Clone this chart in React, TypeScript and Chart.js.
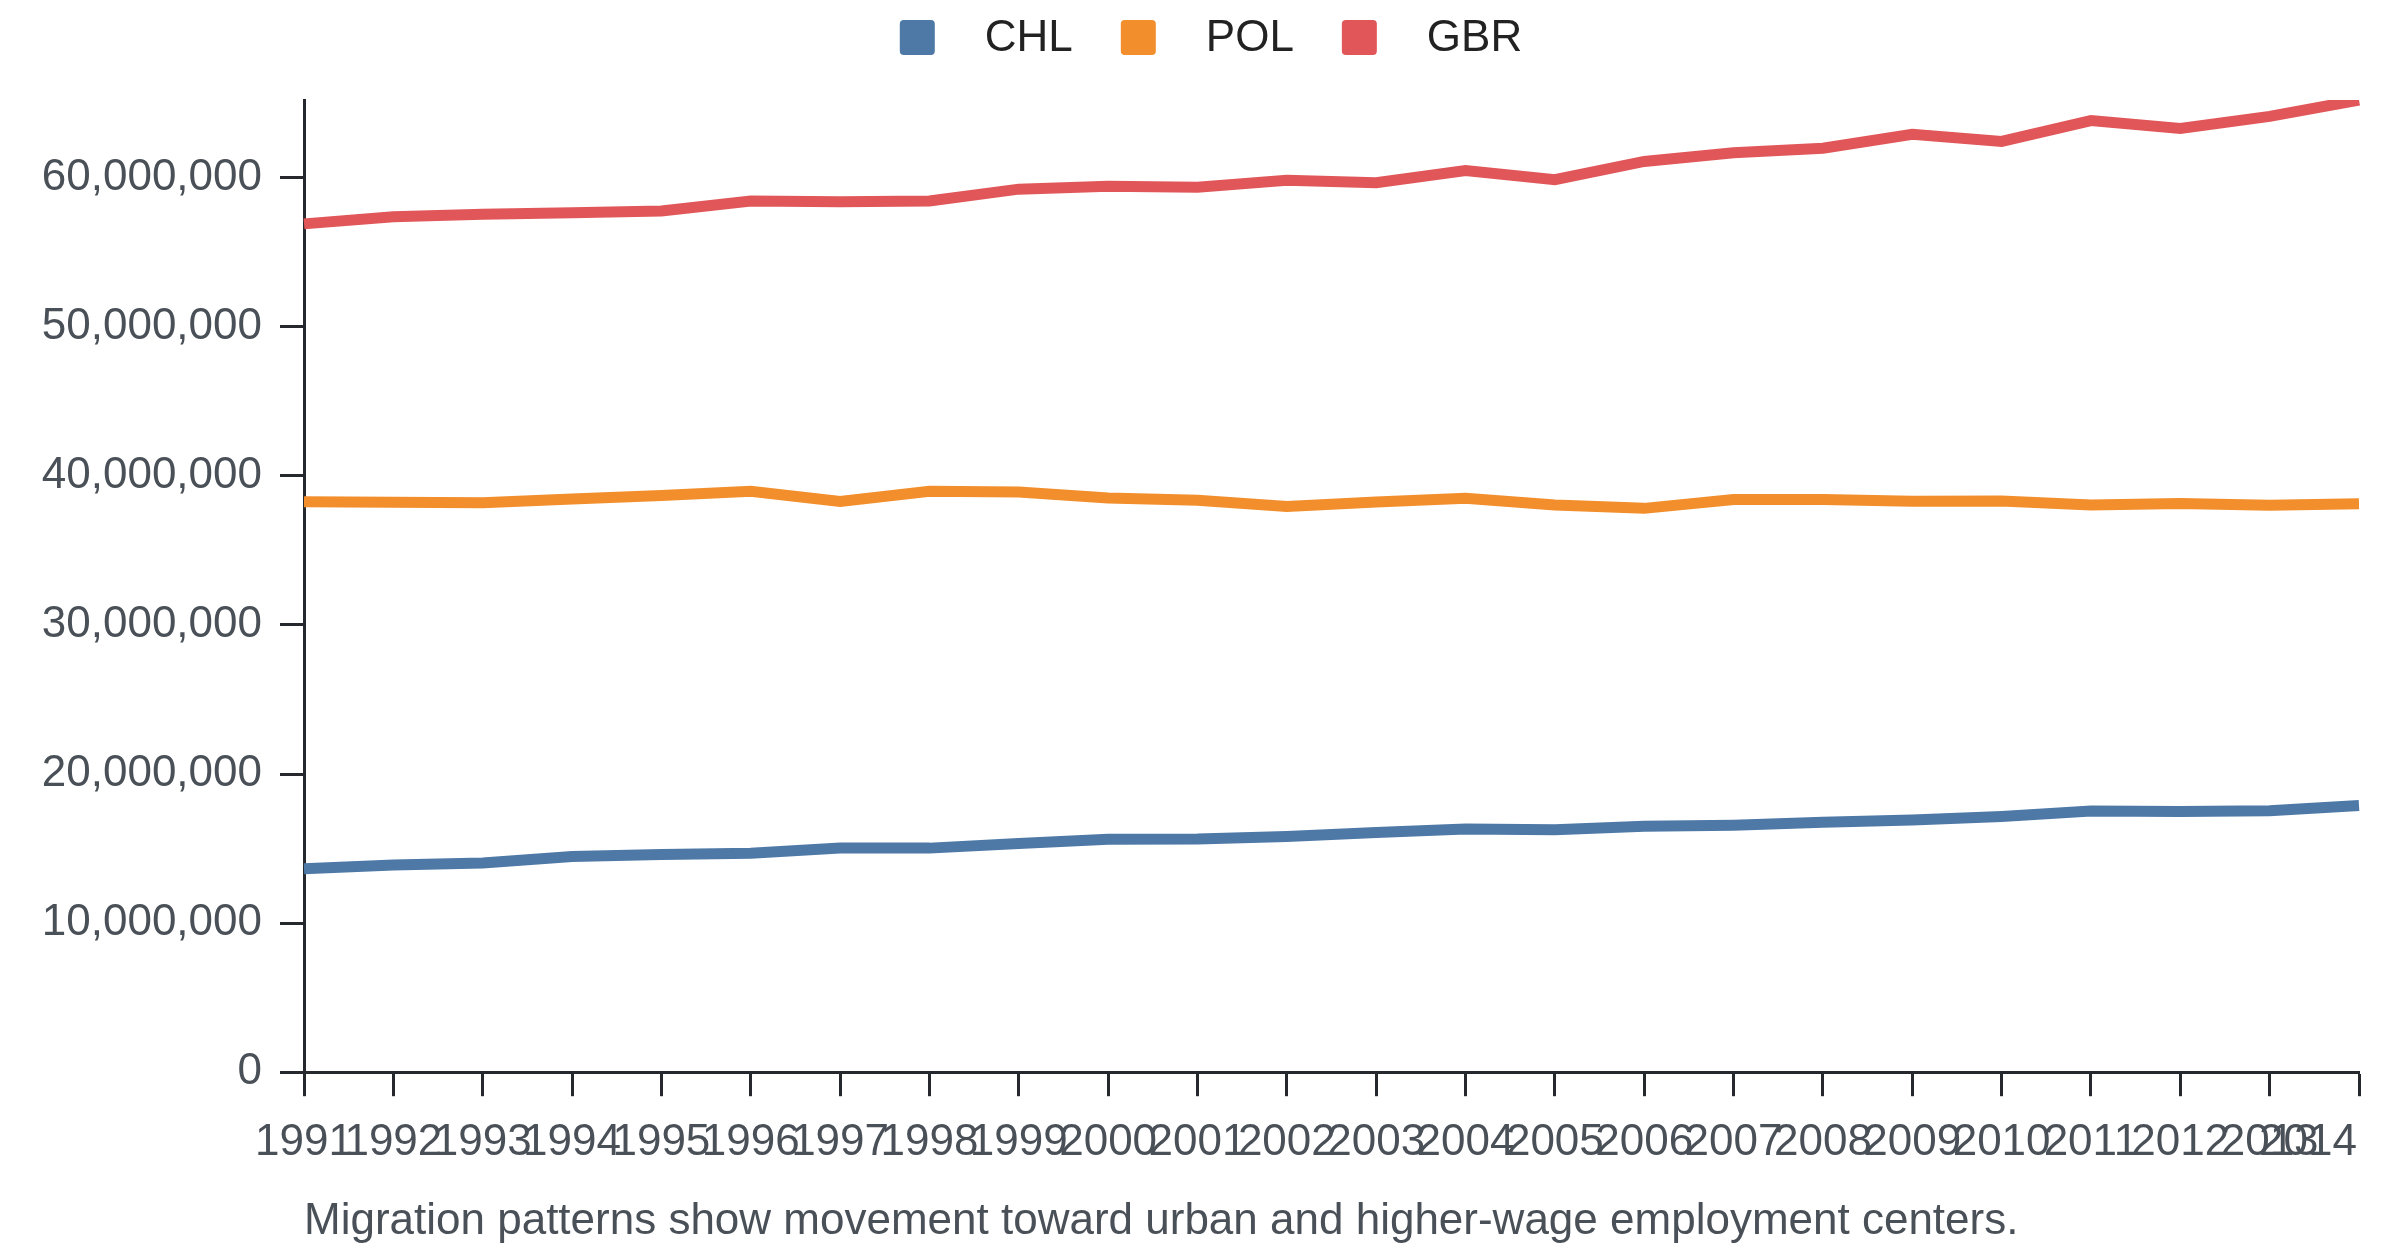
import { useEffect, useRef } from 'react';
import { Chart, registerables } from 'chart.js';

Chart.register(...registerables);

const YEARS = ['1991', '1992', '1993', '1994', '1995', '1996', '1997', '1998', '1999', '2000', '2001', '2002', '2003', '2004', '2005', '2006', '2007', '2008', '2009', '2010', '2011', '2012', '2013', '2014'];

const CHL = [13640000, 13890000, 14030000, 14460000, 14600000, 14680000, 15030000, 15030000, 15340000, 15630000, 15650000, 15810000, 16080000, 16320000, 16260000, 16500000, 16570000, 16770000, 16910000, 17150000, 17520000, 17490000, 17530000, 17890000];

const POL = [38260000, 38230000, 38190000, 38440000, 38690000, 38960000, 38280000, 38960000, 38910000, 38520000, 38360000, 37950000, 38240000, 38500000, 38040000, 37820000, 38420000, 38420000, 38300000, 38320000, 38040000, 38150000, 38030000, 38130000];

const GBR = [56900000, 57380000, 57540000, 57650000, 57770000, 58430000, 58390000, 58440000, 59230000, 59420000, 59360000, 59820000, 59660000, 60480000, 59860000, 61090000, 61670000, 61970000, 62910000, 62430000, 63830000, 63300000, 64110000, 65210000];

const Y_TICKS = [0, 10000000, 20000000, 30000000, 40000000, 50000000, 60000000];

const SERIES_NAMES = ['CHL', 'POL', 'GBR'];
const SERIES_COLORS = ['#4e79a7', '#f28e2b', '#e15759'];
const CAPTION = 'Migration patterns show movement toward urban and higher-wage employment centers.';

const FONT = '"Liberation Sans", Arial, Helvetica, sans-serif';
const TEXT_GRAY = '#4a5057';
const AXIS_COLOR = '#25282c';

const boxLegend = {
  id: 'boxLegend',
  afterDraw(chart: any) {
    const ctx = chart.ctx as CanvasRenderingContext2D;
    const items = chart.data.datasets.map((d: any) => ({ text: d.label, color: d.borderColor }));
    ctx.save();
    ctx.font = `44px ${FONT}`;
    const box = 35;
    const gap = 50;
    const spacing = 48;
    const widths = items.map((it: any) => box + gap + ctx.measureText(it.text).width);
    const total = widths.reduce((a: number, b: number) => a + b, 0) + spacing * (items.length - 1);
    let x = chart.width / 2 - total / 2 + 7;
    const cy = 29.5;
    items.forEach((it: any, i: number) => {
      ctx.fillStyle = it.color;
      ctx.beginPath();
      if ((ctx as any).roundRect) {
        (ctx as any).roundRect(x, cy - box / 2, box, box, 4);
      } else {
        ctx.rect(x, cy - box / 2, box, box);
      }
      ctx.fill();
      ctx.fillStyle = '#222';
      ctx.textAlign = 'left';
      ctx.textBaseline = 'middle';
      ctx.fillText(it.text, x + box + gap, cy + 1);
      x += widths[i] + spacing;
    });
    ctx.restore();
  },
};

const lastXLabel = {
  id: 'lastXLabel',
  afterDraw(chart: any) {
    const xs = chart.scales.x;
    const last = YEARS.length - 1;
    const ctx = chart.ctx as CanvasRenderingContext2D;
    ctx.save();
    ctx.font = `44px ${FONT}`;
    ctx.fillStyle = TEXT_GRAY;
    ctx.textAlign = 'right';
    ctx.textBaseline = 'middle';
    ctx.fillText(YEARS[last], xs.getPixelForTick(last) - 2, xs.top + 24 + 20 + 26.4);
    ctx.restore();
  },
};

export default function App() {
  const canvasRef = useRef<HTMLCanvasElement | null>(null);

  useEffect(() => {
    if (!canvasRef.current) return;
    Chart.defaults.font.family = FONT;
    const yMax = Math.max(...CHL, ...POL, ...GBR);
    const seriesData = [CHL, POL, GBR];
    const chart = new Chart(canvasRef.current, {
      type: 'line',
      data: {
        labels: YEARS,
        datasets: SERIES_NAMES.map((name, i) => ({
          label: name,
          data: seriesData[i],
          borderColor: SERIES_COLORS[i],
          backgroundColor: SERIES_COLORS[i],
          borderWidth: 11,
          pointRadius: 0,
          pointHoverRadius: 0,
          tension: 0,
          fill: false,
          borderJoinStyle: 'miter',
          borderCapStyle: 'butt',
        })),
      },
      options: {
        animation: false,
        responsive: true,
        maintainAspectRatio: false,
        layout: { padding: { top: 92, right: 41, bottom: 0, left: 34 } },
        plugins: {
          legend: { display: false },
          tooltip: { enabled: false },
          title: {
            display: true,
            text: CAPTION,
            position: 'bottom',
            align: 'start',
            fullSize: false,
            color: TEXT_GRAY,
            font: { size: 44, weight: 'normal', family: FONT },
            padding: { top: 25, bottom: 0 },
          },
        },
        scales: {
          x: {
            type: 'category',
            offset: false,
            afterFit: (scale: any) => {
              scale.height = 98;
            },
            grid: {
              display: true,
              drawOnChartArea: false,
              drawTicks: true,
              tickLength: 24,
              tickWidth: 3,
              tickColor: AXIS_COLOR,
              color: AXIS_COLOR,
              offset: false,
            },
            border: { display: true, color: AXIS_COLOR, width: 3 },
            ticks: {
              autoSkip: false,
              maxRotation: 0,
              minRotation: 0,
              padding: 20,
              color: TEXT_GRAY,
              font: { size: 44, family: FONT },
              callback: (_v: any, idx: number) => (idx === YEARS.length - 1 ? '' : YEARS[idx]),
            },
          },
          y: {
            type: 'linear',
            min: 0,
            max: yMax,
            afterBuildTicks: (scale: any) => {
              scale.ticks = Y_TICKS.map((v) => ({ value: v }));
            },
            afterFit: (scale: any) => {
              scale.width = 262;
            },
            grid: {
              display: true,
              drawOnChartArea: false,
              drawTicks: true,
              tickLength: 24,
              tickWidth: 3,
              tickColor: AXIS_COLOR,
              color: AXIS_COLOR,
            },
            border: { display: true, color: AXIS_COLOR, width: 3 },
            ticks: {
              autoSkip: false,
              padding: 18,
              color: TEXT_GRAY,
              font: { size: 44, family: FONT },
              callback: (v: any) => Number(v).toLocaleString('en-US'),
            },
          },
        },
      },
      plugins: [boxLegend, lastXLabel],
    } as any);
    return () => chart.destroy();
  }, []);

  return (
    <div style={{ position: 'relative', width: '2392px', height: '1240px' }}>
      <canvas ref={canvasRef} />
    </div>
  );
}
